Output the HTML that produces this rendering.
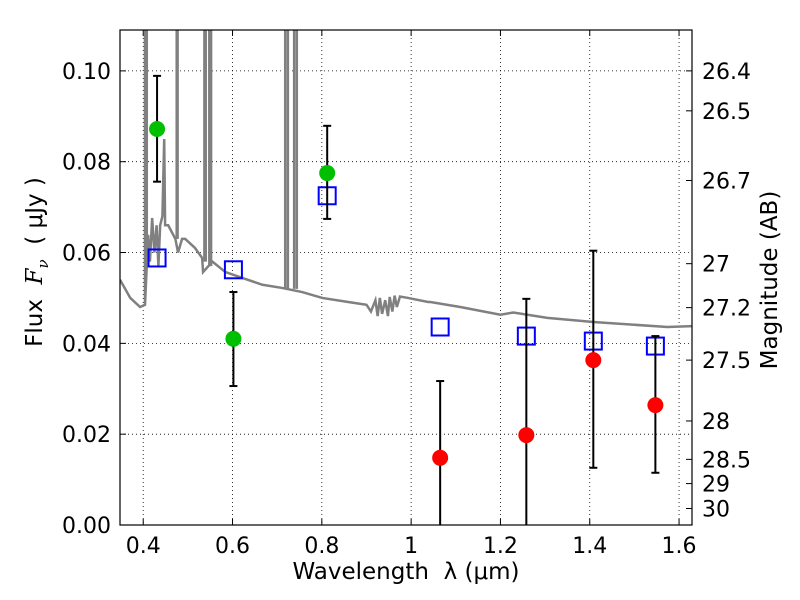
<!DOCTYPE html>
<html><head><meta charset="utf-8"><style>
html,body{margin:0;background:#fff;overflow:hidden;width:800px;height:600px;}
svg{font-family:"DejaVu Sans","Liberation Sans",sans-serif;display:block;}
</style></head><body>
<svg id="chart" width="800" height="600"></svg>
<script>
const specLam=[0.348,0.371,0.393,0.404,0.411,0.415,0.420,0.425,0.430,0.434,0.438,0.443,0.447,0.449,0.456,0.472,0.478,0.487,0.494,0.516,0.532,0.534,0.555,0.584,0.622,0.667,0.711,0.756,0.801,0.859,0.900,0.910,0.920,0.925,0.930,0.935,0.942,0.948,0.952,0.958,0.963,0.968,0.975,0.993,1.038,1.043,1.110,1.200,1.229,1.305,1.408,1.574,1.630];
const specFlux=[0.054,0.050,0.048,0.0485,0.0639,0.058,0.0676,0.060,0.066,0.057,0.066,0.068,0.085,0.066,0.066,0.063,0.060,0.063,0.063,0.061,0.0588,0.0557,0.058,0.0557,0.0544,0.0529,0.0522,0.0513,0.050,0.0491,0.0485,0.0470,0.0495,0.0460,0.0500,0.0465,0.0495,0.0460,0.0502,0.0470,0.0505,0.0480,0.0503,0.050,0.0491,0.0491,0.048,0.0463,0.0468,0.0456,0.0447,0.0436,0.0438];
const spikeLam=[0.404,0.408,0.475,0.477,0.537,0.540,0.548,0.552,0.718,0.724,0.738,0.744];
const spikeBase=[0.049,0.060,0.063,0.063,0.058,0.058,0.057,0.057,0.052,0.052,0.052,0.052];
const greenLam=[0.431,0.602,0.812];
const greenFlux=[0.0872,0.0410,0.0775];
const greenHi=[0.0989,0.0513,0.0879];
const greenLo=[0.0756,0.0306,0.0674];
const redLam=[1.065,1.258,1.408,1.547];
const redFlux=[0.0148,0.0198,0.0363,0.0264];
const redHi=[0.0317,0.0498,0.0604,0.0416];
const redLo=[-0.002,-0.01,0.0126,0.0115];
const blueLam=[0.431,0.602,0.812,1.065,1.258,1.408,1.547];
const blueFlux=[0.0588,0.0562,0.0725,0.0436,0.0416,0.0405,0.0394];
const xTicks=[0.4,0.6,0.8,1.0,1.2,1.4,1.6];
const xTickLabels=["0.4","0.6","0.8","1","1.2","1.4","1.6"];
const yTicks=[0,0.02,0.04,0.06,0.08,0.10];
const yTickLabels=["0.00","0.02","0.04","0.06","0.08","0.10"];
const magTicks=[26.4,26.5,26.7,27,27.2,27.5,28,28.5,29,30];
const magLabels=["26.4","26.5","26.7","27","27.2","27.5","28","28.5","29","30"];

const L=120,R=692,T=30,B=525,xmin=0.348,xmax=1.629,ymin=0,ymax=0.109;
const X=v=>L+(v-xmin)/(xmax-xmin)*(R-L);
const Y=v=>B-(v-ymin)/(ymax-ymin)*(B-T);
const svg=document.getElementById('chart');
const NS='http://www.w3.org/2000/svg';
function mk(tag,a,parent){const e=document.createElementNS(NS,tag);for(const k in a)e.setAttribute(k,a[k]);(parent||svg).appendChild(e);return e;}
const FS=22;
const defs=mk('defs',{});const cp=mk('clipPath',{id:'clip'},defs);mk('rect',{x:L,y:T,width:R-L,height:B-T},cp);
xTicks.forEach((t,i)=>{
 const g=mk('line',{x1:X(t),x2:X(t),y1:T,y2:B,stroke:'#000','stroke-width':0.8,'stroke-dasharray':'1,3'});
 
 mk('line',{x1:X(t),x2:X(t),y1:B,y2:B-6,stroke:'#000'});mk('line',{x1:X(t),x2:X(t),y1:T,y2:T+6,stroke:'#000'});
 const tx=mk('text',{x:X(t),y:B+28,'text-anchor':'middle','font-size':FS});tx.textContent=xTickLabels[i];
 
});
yTicks.forEach((t,i)=>{
 const g=mk('line',{x1:L,x2:R,y1:Y(t),y2:Y(t),stroke:'#000','stroke-width':0.8,'stroke-dasharray':'1,3'});
 
 mk('line',{x1:L,x2:L+6,y1:Y(t),y2:Y(t),stroke:'#000'});
 const tx=mk('text',{x:L-9,y:Y(t)+8,'text-anchor':'end','font-size':FS});tx.textContent=yTickLabels[i];
 
});
magTicks.forEach((m,i)=>{
 const f=Math.pow(10,(23.9-m)/2.5);const y=Y(f);
 mk('line',{x1:R,x2:R-6,y1:y,y2:y,stroke:'#000'});
 const tx=mk('text',{x:R+10,y:y+8,'font-size':FS});tx.textContent=magLabels[i];
 
});
const plot=mk('g',{'clip-path':'url(#clip)'});

const sp=mk('polyline',{points:specLam.map((l,i)=>X(l)+','+Y(specFlux[i])).join(' '),fill:'none',stroke:'#808080','stroke-width':2.5},plot);

spikeLam.forEach((l,i)=>{
 const s=mk('line',{x1:X(l),x2:X(l),y1:Y(spikeBase[i]),y2:T-5,stroke:'#808080','stroke-width':2.5},plot);
 
});
function err(l,hi,lo){
 const g=mk('g',{},plot);
 
 mk('line',{x1:X(l),x2:X(l),y1:Y(hi),y2:Y(lo),stroke:'#000','stroke-width':2},g);
 mk('line',{x1:X(l)-4,x2:X(l)+4,y1:Y(hi),y2:Y(hi),stroke:'#000','stroke-width':2},g);
 mk('line',{x1:X(l)-4,x2:X(l)+4,y1:Y(lo),y2:Y(lo),stroke:'#000','stroke-width':2},g);
}
blueLam.forEach((l,i)=>{
 const r=mk('rect',{x:X(l)-8.5,y:Y(blueFlux[i])-8.5,width:17,height:17,fill:'none',stroke:'#0000ff','stroke-width':2},plot);
 
});
greenLam.forEach((l,i)=>{
 err(l,greenHi[i],greenLo[i]);
 const c=mk('circle',{cx:X(l),cy:Y(greenFlux[i]),r:8,fill:'#00bf00'},plot);
 
});
redLam.forEach((l,i)=>{
 err(l,redHi[i],redLo[i]);
 const c=mk('circle',{cx:X(l),cy:Y(redFlux[i]),r:8,fill:'#ff0000'},plot);
 
});
const fr=mk('rect',{x:L,y:T,width:R-L,height:B-T,fill:'none',stroke:'#000','stroke-width':1.2});

</script>
<div style="position:absolute;left:0;top:0;width:800px;height:600px;pointer-events:none;font-family:'DejaVu Sans','Liberation Sans',sans-serif;">
<div style="position:absolute;left:0;width:812px;top:559px;text-align:center;font-size:23px;white-space:pre;">Wavelength  λ (μm)</div>
<div style="position:absolute;left:37px;top:262px;transform:translate(-50%,-50%) rotate(-90deg);white-space:pre;font-size:23px;">Flux  <i style="font-family:'DejaVu Serif',serif">F<sub style="font-size:15px">ν</sub></i>  ( μJy )</div>
<div style="position:absolute;left:770px;top:280px;transform:translate(-50%,-50%) rotate(-90deg);white-space:nowrap;font-size:23px;">Magnitude (AB)</div>
</div>
</body></html>
